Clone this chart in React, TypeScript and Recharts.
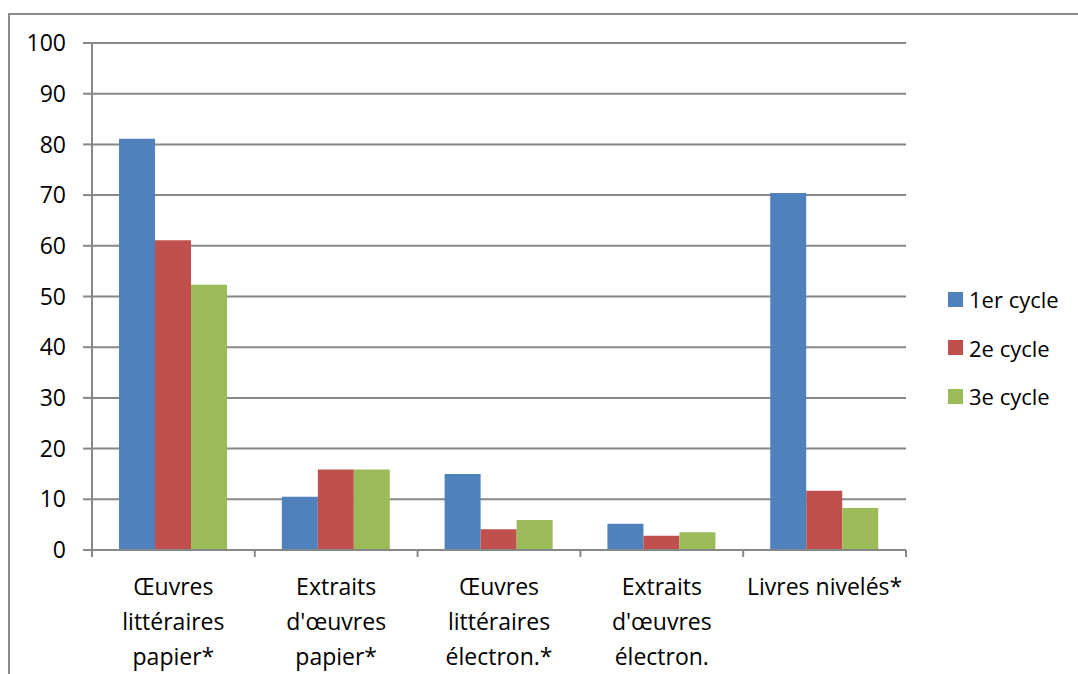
import React from "react";
import { BarChart, Bar, XAxis, YAxis, CartesianGrid } from "recharts";

const categories = [
  "Œuvres\nlittéraires\npapier*",
  "Extraits\nd'œuvres\npapier*",
  "Œuvres\nlittéraires\nélectron.*",
  "Extraits\nd'œuvres\nélectron.",
  "Livres nivelés*",
];
const cycle1 = [81.1, 10.5, 15.0, 5.2, 70.4];
const cycle2 = [61.1, 15.9, 4.1, 2.8, 11.7];
const cycle3 = [52.3, 15.9, 5.9, 3.5, 8.3];
const yTicks = [0, 10, 20, 30, 40, 50, 60, 70, 80, 90, 100];

const SERIES = [
  { key: "c1", name: "1er cycle", color: "#4F81BD", values: cycle1 },
  { key: "c2", name: "2e cycle", color: "#C0504D", values: cycle2 },
  { key: "c3", name: "3e cycle", color: "#9BBB59", values: cycle3 },
];

const data = categories.map((cat, i) => ({
  cat,
  c1: cycle1[i],
  c2: cycle2[i],
  c3: cycle3[i],
}));

const W = 1078;
const H = 674;
const X_AXIS_H = 30;
const MARGIN = { top: 43, right: 172, left: 0, bottom: 124 - X_AXIS_H };
const Y_AXIS_W = 92;
const GRAY = "#878787";
const FONT = "'Open Sans', sans-serif";
const FS = 23;
const HALF_BAND = (W - MARGIN.right - Y_AXIS_W) / categories.length / 2;

// category label + boundary tick marks (Excel puts ticks between categories)
function CategoryTick({ x, y, payload, index }: any) {
  const lines = String(payload.value).split("\n");
  return (
    <g>
      <line x1={x - HALF_BAND} x2={x - HALF_BAND} y1={y} y2={y + 7} stroke={GRAY} strokeWidth={2} />
      {index === categories.length - 1 && (
        <line x1={x + HALF_BAND} x2={x + HALF_BAND} y1={y} y2={y + 7} stroke={GRAY} strokeWidth={2} />
      )}
      <text x={x} y={y} textAnchor="middle" fontSize={FS} fontFamily={FONT} fill="#000">
        {lines.map((l, i) => (
          <tspan key={i} x={x} dy={i === 0 ? 45 : 35}>{l}</tspan>
        ))}
      </text>
    </g>
  );
}

function LegendBox() {
  return (
    <div style={{ position: "absolute", left: 948, top: 275, fontFamily: FONT, fontSize: FS - 1, color: "#000" }}>
      {SERIES.map((s) => (
        <div key={s.key} style={{ display: "flex", alignItems: "center", height: 48.5 }}>
          <span style={{ width: 15, height: 15, background: s.color, display: "inline-block", marginRight: 6 }} />
          <span>{s.name}</span>
        </div>
      ))}
    </div>
  );
}

export default function App() {
  return (
    <div style={{ position: "absolute", left: 0, top: 0, width: W, height: H, background: "#fff", overflow: "hidden" }}>
      <div style={{ position: "absolute", left: 8, top: 13, right: -10, bottom: -10, borderTop: "2px solid #8c8c8c", borderLeft: "2px solid #8c8c8c" }} />
      <BarChart width={W} height={H} data={data} margin={MARGIN} barCategoryGap="16.6%" barGap={0}>
        <CartesianGrid vertical={false} stroke={GRAY} strokeWidth={2} />
        <XAxis
          dataKey="cat"
          height={X_AXIS_H}
          interval={0}
          axisLine={{ stroke: GRAY, strokeWidth: 2 }}
          tickLine={false}
          tickSize={0}
          tickMargin={0}
          tick={<CategoryTick />}
        />
        <YAxis
          width={Y_AXIS_W}
          domain={[0, 100]}
          ticks={yTicks}
          interval={0}
          axisLine={{ stroke: GRAY, strokeWidth: 2 }}
          tickLine={{ stroke: GRAY, strokeWidth: 2 }}
          tickSize={9}
          tickMargin={17}
          tick={{ fill: "#000", fontSize: FS, fontFamily: FONT }}
        />
        {SERIES.map((s) => (
          <Bar key={s.key} dataKey={s.key} name={s.name} fill={s.color} isAnimationActive={false} />
        ))}
      </BarChart>
      <LegendBox />
    </div>
  );
}
